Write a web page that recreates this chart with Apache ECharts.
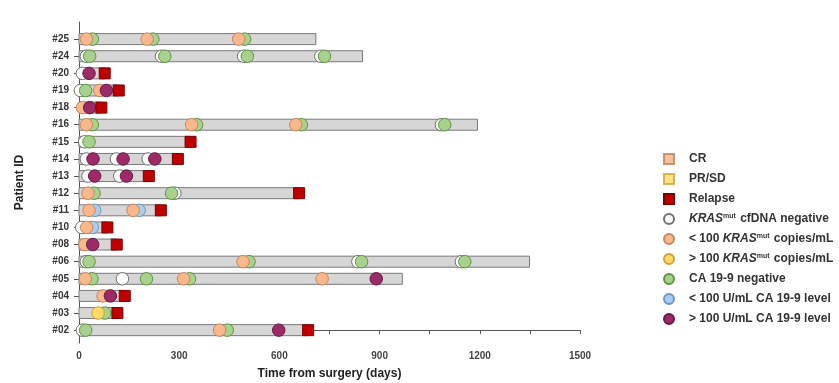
<!DOCTYPE html>
<html>
<head>
<meta charset="utf-8">
<script src="https://cdn.jsdelivr.net/npm/echarts@6/dist/echarts.min.js"></script>
<style>
  html, body { margin: 0; padding: 0; background: #fff; }
  #container { width: 839px; height: 383px; }
</style>
</head>
<body>
<div id="container"></div>
<script>
  // patients, top to bottom as in the figure
  var patients = ['#25','#24','#20','#19','#18','#16','#15','#14','#13','#12','#11','#10','#08','#06','#05','#04','#03','#02'];
  var followUpDays = [709, 849, 77, 119, 67, 1193, 334, 296, 209, 659, 245, 85, 113, 1349, 968, 137, 115, 686];
  var xTicks = [0, 300, 600, 900, 1200, 1500];

  // [day, patient]
  var relapse = [[77,'#20'],[119,'#19'],[67,'#18'],[334,'#15'],[296,'#14'],[209,'#13'],[659,'#12'],[245,'#11'],[85,'#10'],[113,'#08'],[137,'#04'],[115,'#03'],[686,'#02']];
  var krasNegative = [[22,'#24'],[247,'#24'],[493,'#24'],[724,'#24'],[10,'#20'],[4,'#19'],[1085,'#16'],[17,'#15'],[22,'#14'],[112,'#14'],[207,'#14'],[27,'#13'],[122,'#13'],[287,'#12'],[8,'#10'],[22,'#06'],[835,'#06'],[1145,'#06'],[130,'#05'],[10,'#02']];
  var krasLow = [[22,'#25'],[204,'#25'],[478,'#25'],[62,'#19'],[10,'#18'],[22,'#16'],[337,'#16'],[649,'#16'],[27,'#12'],[30,'#11'],[162,'#11'],[23,'#10'],[18,'#08'],[491,'#06'],[19,'#05'],[313,'#05'],[728,'#05'],[72,'#04'],[421,'#02']];
  var krasHigh = [[57,'#03']];
  var caNegative = [[40,'#25'],[221,'#25'],[496,'#25'],[32,'#24'],[257,'#24'],[504,'#24'],[735,'#24'],[20,'#19'],[40,'#16'],[352,'#16'],[666,'#16'],[1095,'#16'],[30,'#15'],[45,'#12'],[277,'#12'],[30,'#06'],[509,'#06'],[846,'#06'],[1155,'#06'],[39,'#05'],[202,'#05'],[331,'#05'],[77,'#03'],[20,'#02'],[444,'#02']];
  var caLow = [[47,'#11'],[180,'#11'],[40,'#10']];
  var caHigh = [[30,'#20'],[82,'#19'],[32,'#18'],[42,'#14'],[132,'#14'],[227,'#14'],[47,'#13'],[142,'#13'],[41,'#08'],[890,'#05'],[94,'#04'],[598,'#02']];

  function yPos(id) {
    return patients.length - 1 - patients.indexOf(id);
  }
  function toPoints(arr) {
    return arr.map(function (d) { return [d[0], yPos(d[1])]; });
  }

  var rows = patients.map(function (p, i) { return [followUpDays[i], yPos(p)]; });
  var rowTicks = patients.map(function (p) { return yPos(p); });

  function circle(name, data, fill, border, z) {
    return {
      name: name,
      type: 'scatter',
      symbol: 'circle',
      symbolSize: 12.5,
      z: z,
      itemStyle: { color: fill, borderColor: border, borderWidth: 1, opacity: 1 },
      data: toPoints(data)
    };
  }

  var myChart = echarts.init(document.getElementById('container'));
  var option = {
    animation: false,
    grid: { left: 79, right: 259, top: 22, bottom: 40, outerBoundsMode: 'none' },
    legend: {
      orient: 'vertical',
      left: 663,
      top: 153,
      padding: 0,
      itemWidth: 10,
      itemHeight: 10,
      itemGap: 8,
      selectedMode: false,
      textStyle: {
        fontFamily: 'Liberation Sans',
        fontWeight: 'bold',
        fontSize: 12,
        color: '#333',
        padding: [0, 0, 0, 10],
        rich: {
          k: { fontFamily: 'Liberation Sans', fontWeight: 'bold', fontStyle: 'italic', fontSize: 12, color: '#333' },
          m: { fontFamily: 'Liberation Sans', fontWeight: 'bold', fontSize: 7, color: '#333', verticalAlign: 'top', padding: [0, 1, 4, 0] }
        }
      },
      formatter: function (name) {
        return name.replace('KRASmut', '{k|KRAS}{m|mut}');
      },
      data: [
        { name: 'CR', icon: 'rect' },
        { name: 'PR/SD', icon: 'rect' },
        { name: 'Relapse', icon: 'rect' },
        { name: 'KRASmut cfDNA negative', icon: 'circle' },
        { name: '< 100 KRASmut copies/mL', icon: 'circle' },
        { name: '> 100 KRASmut copies/mL', icon: 'circle' },
        { name: 'CA 19-9 negative', icon: 'circle' },
        { name: '< 100 U/mL CA 19-9 level', icon: 'circle' },
        { name: '> 100 U/mL CA 19-9 level', icon: 'circle' }
      ]
    },
    xAxis: {
      type: 'value',
      min: 0,
      max: 1500,
      interval: 150,
      name: 'Time from surgery (days)',
      nameLocation: 'middle',
      nameGap: 25,
      nameTextStyle: { fontFamily: 'Liberation Sans', fontWeight: 'bold', fontSize: 12, color: '#222' },
      axisLine: { lineStyle: { color: '#555', width: 1 } },
      axisTick: { length: 4, lineStyle: { color: '#555' } },
      splitLine: { show: false },
      axisLabel: {
        fontFamily: 'Liberation Sans',
        fontWeight: 'bold',
        fontSize: 10,
        color: '#444',
        margin: 8,
        formatter: function (v) { return xTicks.indexOf(v) >= 0 ? String(v) : ''; }
      }
    },
    yAxis: {
      type: 'value',
      min: -0.75,
      max: 18,
      name: 'Patient ID',
      nameLocation: 'middle',
      nameGap: 53,
      nameTextStyle: { fontFamily: 'Liberation Sans', fontWeight: 'bold', fontSize: 12, color: '#222' },
      axisLine: { show: true, lineStyle: { color: '#555', width: 1 } },
      axisTick: { show: true, length: 5, customValues: rowTicks, lineStyle: { color: '#555' } },
      splitLine: { show: false },
      axisLabel: {
        customValues: rowTicks,
        fontFamily: 'Liberation Sans',
        fontWeight: 'bold',
        fontSize: 10,
        color: '#333',
        margin: 10,
        formatter: function (v) { return patients[patients.length - 1 - Math.round(v)]; }
      }
    },
    series: [
      {
        name: 'follow-up',
        type: 'custom',
        z: 1,
        encode: { x: 0, y: 1 },
        renderItem: function (params, api) {
          var start = api.coord([0, api.value(1)]);
          var end = api.coord([api.value(0), api.value(1)]);
          var h = 11;
          return {
            type: 'rect',
            shape: { x: start[0], y: start[1] - h / 2, width: end[0] - start[0], height: h },
            style: { fill: '#D6D6D6', stroke: '#7A7A7A', lineWidth: 1 }
          };
        },
        data: rows
      },
      { name: 'CR', type: 'scatter', symbol: 'rect', itemStyle: { color: '#F4B183', borderColor: '#B9805A', borderWidth: 1 }, data: [] },
      { name: 'PR/SD', type: 'scatter', symbol: 'rect', itemStyle: { color: '#FFD966', borderColor: '#C9A43A', borderWidth: 1 }, data: [] },
      {
        name: 'Relapse',
        type: 'scatter',
        symbol: 'rect',
        symbolSize: 11,
        z: 10,
        itemStyle: { color: '#C00000', borderColor: '#7A0000', borderWidth: 1, opacity: 1 },
        data: toPoints(relapse)
      },
      circle('KRASmut cfDNA negative', krasNegative, '#FFFFFF', '#6F6F6F', 3),
      circle('< 100 KRASmut copies/mL', krasLow, '#F8B88B', '#C58760', 6),
      circle('> 100 KRASmut copies/mL', krasHigh, '#FFD966', '#C9A43A', 7),
      circle('CA 19-9 negative', caNegative, '#A9D18E', '#5C9440', 4),
      circle('< 100 U/mL CA 19-9 level', caLow, '#A9CDEB', '#6E98BE', 5),
      circle('> 100 U/mL CA 19-9 level', caHigh, '#9C2A67', '#6A1A45', 8)
    ]
  };
  myChart.setOption(option);
</script>
</body>
</html>
